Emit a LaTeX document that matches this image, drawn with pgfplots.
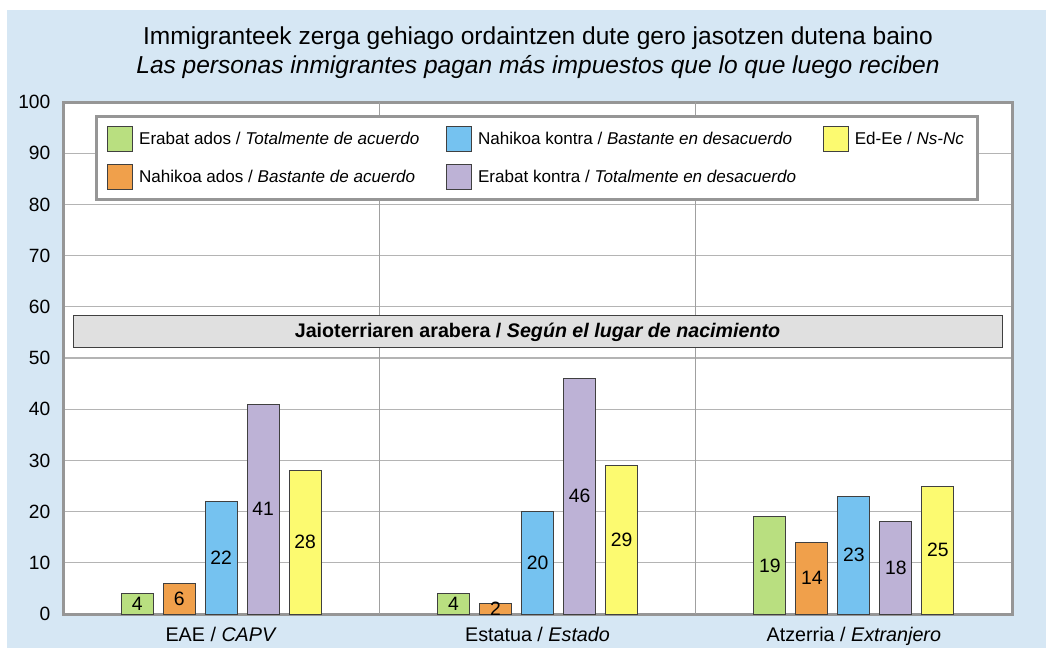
\documentclass[border=0pt]{standalone}
\usepackage{pgfplots}
\pgfplotsset{compat=1.18}
\usepackage{fontspec}
\setmainfont{Liberation Sans}

\definecolor{bgblue}{RGB}{214,231,244}
\definecolor{framegray}{RGB}{150,150,150}
\definecolor{gridgray}{RGB}{180,180,180}
\definecolor{sepgray}{RGB}{160,160,160}
\definecolor{bardraw}{RGB}{64,64,64}
\definecolor{cgreen}{RGB}{185,223,128}
\definecolor{corange}{RGB}{240,160,75}
\definecolor{cblue}{RGB}{117,194,240}
\definecolor{cpurple}{RGB}{189,178,214}
\definecolor{cyellow}{RGB}{252,250,112}
\definecolor{bannerfill}{RGB}{224,224,224}

\begin{document}
\begin{tikzpicture}[x=0.75pt,y=-0.75pt]
% page and blue panel (pixel coordinates, y downwards)
\path[fill=white] (0,0) rectangle (1048,648);
\fill[bgblue] (7,10) rectangle (1046,648);
\node[font=\fontsize{18.4}{21}\selectfont] at (538,38) {Immigranteek zerga gehiago ordaintzen dute gero jasotzen dutena baino};
\node[font=\fontsize{18.4}{21}\selectfont\itshape] at (538,67) {Las personas inmigrantes pagan más impuestos que lo que luego reciben};

\begin{axis}[
  at={(47.25pt,-460.5pt)}, anchor=south west,
  scale only axis, width=711.75pt, height=384pt,
  xmin=-0.5, xmax=2.5, ymin=0, ymax=100,
  axis background/.style={fill=white},
  axis line style={draw=framegray, line width=2.25pt},
  xtick={0,1,2},
  xticklabels={EAE / \textit{CAPV}, Estatua / \textit{Estado}, Atzerria / \textit{Extranjero}},
  extra x ticks={0.5,1.5}, extra x tick labels={},
  extra x tick style={grid=major, major grid style={draw=sepgray, line width=1.2pt}},
  ytick={0,10,...,100},
  ymajorgrids, major grid style={draw=gridgray, line width=1pt},
  major tick length=0pt,
  /pgf/number format/assume math mode=true,
  yticklabel style={font=\fontsize{14.4}{17}\selectfont, xshift=-6pt},
  xticklabel style={font=\fontsize{14.8}{17}\selectfont, yshift=-6pt},
  ybar, bar width=24pt,
  every axis plot/.append style={draw=bardraw, line width=0.75pt},
  nodes near coords,
  visualization depends on={rawy \as \rawy},
  nodes near coords style={anchor=center, font=\fontsize{14.5}{17}\selectfont, text=black,
    yshift=-\rawy*1.92pt},
  legend columns=3,
  legend cell align=left,
  legend image code/.code={\draw[#1, line width=0.75pt] (0pt,-9.4pt) rectangle (18.75pt,9.4pt);},
  legend style={at={(0.0337,0.9746)}, anchor=north west, draw=framegray, line width=2.25pt,
    fill=white, font=\fontsize{12.8}{15}\selectfont, inner xsep=8pt, inner ysep=7pt, row sep=9pt,
    /tikz/every odd column/.append style={column sep=2.5pt},
    /tikz/every even column/.append style={column sep=18pt}},
]
\addplot[fill=cgreen, bar shift=-63pt] coordinates {(0,4) (1,4) (2,19)};
\addlegendentry{Erabat ados / \textit{Totalmente de acuerdo}}
\addplot[fill=cblue, bar shift=0pt] coordinates {(0,22) (1,20) (2,23)};
\addlegendentry{Nahikoa kontra / \textit{Bastante en desacuerdo}}
\addplot[fill=cyellow, bar shift=63pt] coordinates {(0,28) (1,29) (2,25)};
\addlegendentry{Ed-Ee / \textit{Ns-Nc}}
\addplot[fill=corange, bar shift=-31.5pt] coordinates {(0,6) (1,2) (2,14)};
\addlegendentry{Nahikoa ados / \textit{Bastante de acuerdo}}
\addplot[fill=cpurple, bar shift=31.5pt] coordinates {(0,41) (1,46) (2,18)};
\addlegendentry{Erabat kontra / \textit{Totalmente en desacuerdo}}

\node[draw=bardraw, line width=0.75pt, fill=bannerfill, minimum width=696.75pt, minimum height=24pt,
  inner sep=0pt, font=\fontsize{14.75}{17}\selectfont\bfseries]
  at (axis cs:1,55.1) {Jaioterriaren arabera / \textit{Según el lugar de nacimiento}};
\end{axis}
\end{tikzpicture}
\end{document}
